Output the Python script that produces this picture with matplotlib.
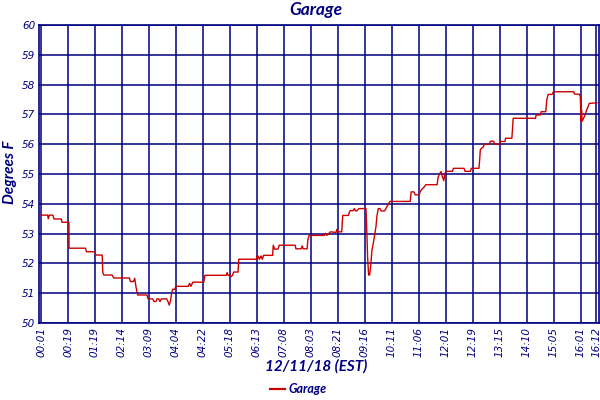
import matplotlib
matplotlib.use("Agg")
import matplotlib.pyplot as plt
from matplotlib.lines import Line2D

# ---- data (x in tick-label units, y in degrees F) ----
tick_labels = ["00:01", "00:19", "01:19", "02:14", "03:09", "04:04", "04:22",
               "05:18", "06:13", "07:08", "08:03", "08:21", "09:16", "10:11",
               "11:06", "12:01", "12:19", "13:15", "14:10", "15:05", "16:01",
               "16:12"]
tick_pos = list(range(21)) + [20.58]

x_pos = [0.00, 0.246, 0.27, 0.31, 0.443, 0.48, 0.751, 0.776, 1.034, 1.04,
         1.65, 1.687, 1.995, 2.032, 2.266, 2.29, 2.33, 2.635, 2.697, 3.276,
         3.313, 3.423, 3.473, 3.522, 3.583, 3.928, 3.965, 4.137, 4.187, 4.26,
         4.298, 4.36, 4.41, 4.46, 4.655, 4.704, 4.753, 4.80, 4.84, 4.876,
         4.95, 5.00, 5.455, 5.504, 5.553, 5.603, 5.627, 6.034, 6.071, 6.859,
         6.896, 6.933, 7.007, 7.044, 7.093, 7.142, 7.302, 7.327, 7.979, 8.004,
         8.041, 8.09, 8.152, 8.201, 8.25, 8.583, 8.607, 8.657, 8.78, 8.829,
         9.42, 9.445, 9.642, 9.679, 9.715, 9.863, 9.888, 9.937, 10.504, 10.54,
         10.59, 10.651, 10.725, 10.935, 10.959, 11.008, 11.144, 11.181, 11.39, 11.427,
         11.452, 11.575, 11.612, 11.661, 11.698, 11.784, 12.043, 12.068, 12.104, 12.141,
         12.178, 12.215, 12.264, 12.314, 12.363, 12.412, 12.449, 12.498, 12.56, 12.609,
         12.732, 12.782, 12.831, 12.88, 12.929, 13.681, 13.717, 13.816, 13.865, 14.013,
         14.05, 14.111, 14.186, 14.259, 14.678, 14.715, 14.777, 14.826, 14.875, 14.924,
         14.973, 15.01, 15.245, 15.282, 15.675, 15.712, 15.909, 15.946, 16.229, 16.254,
         16.279, 16.328, 16.377, 16.427, 16.476, 16.624, 16.648, 16.771, 16.821, 16.993,
         17.018, 17.19, 17.215, 17.449, 17.473, 17.498, 18.323, 18.348, 18.508, 18.532,
         18.704, 18.741, 18.791, 18.938, 18.988, 19.739, 19.776, 19.948, 19.985, 20.01,
         20.03, 20.05, 20.121, 20.17, 20.219, 20.269, 20.318, 20.60]

garage = [53.62, 53.62, 53.50, 53.62, 53.62, 53.49, 53.49, 53.38, 53.38, 52.51,
          52.51, 52.39, 52.39, 52.28, 52.28, 51.69, 51.61, 51.61, 51.51, 51.51,
          51.39, 51.39, 51.50, 51.20, 50.94, 50.94, 50.81, 50.81, 50.72, 50.72,
          50.81, 50.81, 50.72, 50.81, 50.81, 50.72, 50.60, 50.75, 51.00, 51.13,
          51.13, 51.23, 51.23, 51.33, 51.23, 51.33, 51.37, 51.37, 51.60, 51.60,
          51.69, 51.60, 51.60, 51.555, 51.60, 51.71, 51.71, 52.14, 52.14, 52.25,
          52.25, 52.14, 52.25, 52.14, 52.27, 52.27, 52.61, 52.48, 52.48, 52.61,
          52.61, 52.49, 52.49, 52.59, 52.49, 52.49, 52.79, 52.94, 52.94, 53.01,
          52.94, 52.99, 53.06, 53.04, 53.14, 53.06, 53.06, 53.61, 53.61, 53.72,
          53.77, 53.77, 53.84, 53.76, 53.76, 53.84, 53.84, 53.23, 52.17, 51.61,
          51.61, 51.89, 52.45, 52.67, 52.95, 53.23, 53.59, 53.84, 53.84, 53.76,
          53.76, 53.84, 53.93, 53.99, 54.08, 54.08, 54.40, 54.40, 54.30, 54.30,
          54.40, 54.49, 54.55, 54.64, 54.64, 54.89, 55.02, 55.08, 54.91, 54.78,
          55.02, 55.09, 55.09, 55.19, 55.19, 55.09, 55.09, 55.19, 55.19, 55.47,
          55.81, 55.87, 55.89, 55.99, 56.00, 56.00, 56.10, 56.10, 56.00, 56.00,
          56.09, 56.09, 56.20, 56.20, 56.53, 56.87, 56.87, 56.98, 56.98, 57.09,
          57.09, 57.48, 57.67, 57.67, 57.76, 57.76, 57.68, 57.68, 57.60, 56.77,
          57.14, 56.77, 56.90, 57.00, 57.15, 57.25, 57.37, 57.39]

y_ticks = [50, 51, 52, 53, 54, 55, 56, 57, 58, 59, 60]

navy = "#000080"
red = "#cc0000"

fig = plt.figure(figsize=(6, 4), dpi=100)
ax = fig.add_axes([0.0655, 0.1925, 0.9325, 0.745])

ax.plot(x_pos, garage, color=red, linewidth=1.0, zorder=3)

ax.set_xlim(-0.063, 20.67)
ax.set_ylim(50, 60)
ax.set_xticks(tick_pos)
ax.set_xticklabels(tick_labels, rotation=90, fontsize=7.5, color=navy,
                   style="italic", family="DejaVu Sans")
ax.set_yticks(y_ticks)
ax.set_yticklabels([str(v) for v in y_ticks], fontsize=7.5, color=navy,
                   style="italic", family="DejaVu Sans")
ax.tick_params(length=0, pad=3)
ax.grid(True, color=navy, linewidth=1.1)
ax.set_axisbelow(True)
for s in ax.spines.values():
    s.set_color(navy)
    s.set_linewidth(1.2)

font_lab = dict(family="Lato", weight="bold", style="italic", color=navy)
fig.text(0.527, 0.974, "Garage", ha="center", va="center", fontsize=12.5, **font_lab)
fig.text(0.527, 0.083, "12/11/18 (EST)", ha="center", va="center", fontsize=11, **font_lab)
fig.text(0.017, 0.57, "Degrees F", ha="center", va="center", rotation=90,
         fontsize=11, **font_lab)

# legend
leg_handle = Line2D([0], [0], color=red, linewidth=1.6)
leg = fig.legend([leg_handle], ["Garage"], loc="center", bbox_to_anchor=(0.497, 0.027),
                 frameon=False, handlelength=1.2, handletextpad=0.3,
                 prop=dict(family="Lato", weight="bold", style="italic", size=9))
for t in leg.get_texts():
    t.set_color(navy)

fig.savefig("out.png", dpi=100)
